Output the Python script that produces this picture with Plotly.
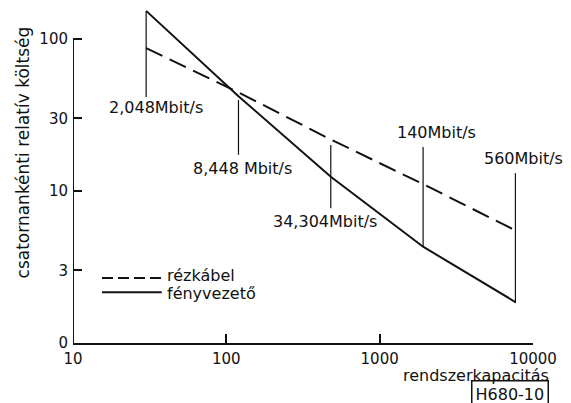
import numpy as np
import plotly.graph_objects as go

# ---- data ----
capacity = [30, 120, 480, 1920, 7680]              # channels (system capacity)
copper_cost = [87, 44.5, 21.8, 11.1, 5.5]          # rézkábel (dashed)
fibre_cost = [153, 42, 12.4, 4.3, 1.86]            # fényvezető (solid)

bitrate_labels = ["2,048Mbit/s", "8,448 Mbit/s", "34,304Mbit/s", "140Mbit/s", "560Mbit/s"]
marker_top = [153, 39.7, 20.1, 19.5, 13.1]
marker_bottom = [41.5, 17.3, 7.7, 4.28, 1.83]

x_tickvals = [10, 100, 1000, 10000]
x_ticktext = ["10", "100", "1000", "10000"]
y_tickvals = [1, 3, 10, 30, 100]
y_ticktext = ["0", "3", "10", "30", "100"]

series_names = ["rézkábel", "fényvezető"]
y_title = "csatornankénti relatív költség"
x_title = "rendszerkapacitás"
figure_code = "H680-10"

FONT = "DejaVu Sans, Liberation Sans, Arial, sans-serif"
BLACK = "#111111"

fig = go.Figure()

# y-axis line drawn only from 1 to 100 (data extends above)
fig.add_trace(go.Scatter(x=[x_tickvals[0], x_tickvals[0]], y=[y_tickvals[0], y_tickvals[-1]],
                         mode="lines", line=dict(color=BLACK, width=2),
                         hoverinfo="skip", showlegend=False))

# curves
fig.add_trace(go.Scatter(x=capacity, y=copper_cost, mode="lines", name=series_names[0],
                         line=dict(color=BLACK, width=2, dash="18px,8px"), showlegend=False))
fig.add_trace(go.Scatter(x=capacity, y=fibre_cost, mode="lines", name=series_names[1],
                         line=dict(color=BLACK, width=2), showlegend=False))

# vertical marker lines for bit rates
for c, t, b in zip(capacity, marker_top, marker_bottom):
    fig.add_trace(go.Scatter(x=[c, c], y=[t, b], mode="lines",
                             line=dict(color=BLACK, width=1.2),
                             hoverinfo="skip", showlegend=False))

# bit-rate labels (x in log units for annotations on log axes)
label_ylog = [1.546, 1.151, 0.796, 1.382, 1.211]
label_xshift = [10, 4, -6, 13, 8]
for lab, c, ylog, xs in zip(bitrate_labels, capacity, label_ylog, label_xshift):
    fig.add_annotation(x=np.log10(c), y=ylog, xref="x", yref="y", text=lab,
                       showarrow=False, xanchor="center", yanchor="middle", xshift=xs,
                       font=dict(family=FONT, size=16, color=BLACK))

# manual legend
leg_x0, leg_x1 = 0.063, 0.193
leg_y = [0.192, 0.150]
leg_dash = ["11px,5px", "solid"]
leg_text_y = [0.198, 0.145]
for name, yy, dsh, ty in zip(series_names, leg_y, leg_dash, leg_text_y):
    fig.add_shape(type="line", xref="paper", yref="paper", x0=leg_x0, x1=leg_x1, y0=yy, y1=yy,
                  line=dict(color=BLACK, width=2, dash=dsh))
    fig.add_annotation(x=0.2, y=ty, xref="paper", yref="paper", text=name, showarrow=False,
                       xanchor="left", yanchor="middle",
                       font=dict(family=FONT, size=16, color=BLACK))

# axis titles and figure code
fig.add_annotation(x=-0.108, y=0.563, xref="paper", yref="paper", text=y_title, textangle=-90,
                   showarrow=False, xanchor="center", yanchor="middle",
                   font=dict(family=FONT, size=17, color=BLACK))
fig.add_annotation(x=1.039, y=-0.097, xref="paper", yref="paper", text=x_title,
                   showarrow=False, xanchor="right", yanchor="middle",
                   font=dict(family=FONT, size=16, color=BLACK))
fig.add_annotation(x=0.949, y=-0.150, xref="paper", yref="paper", text=figure_code,
                   showarrow=False, xanchor="center", yanchor="middle",
                   bordercolor=BLACK, borderwidth=1.5, borderpad=3,
                   font=dict(family=FONT, size=16, color=BLACK))

fig.update_layout(
    width=571, height=403,
    margin=dict(l=73, r=38, t=4, b=60),
    paper_bgcolor="white", plot_bgcolor="white",
    showlegend=False,
    font=dict(family=FONT, size=16, color=BLACK),
    xaxis=dict(type="log", range=[1, 4], tickvals=x_tickvals, ticktext=x_ticktext,
               showgrid=False, zeroline=False, showline=True, linecolor=BLACK, linewidth=2,
               ticks="inside", ticklen=9, tickwidth=1.5, tickcolor=BLACK,
               ticklabelstandoff=1,
               tickfont=dict(family=FONT, size=15, color=BLACK)),
    yaxis=dict(type="log", range=[0, 2.23], tickvals=y_tickvals, ticktext=y_ticktext,
               showgrid=False, zeroline=False, showline=False,
               ticks="inside", ticklen=9, tickwidth=1.5, tickcolor=BLACK,
               ticklabelstandoff=4,
               tickfont=dict(family=FONT, size=15, color=BLACK)),
)

fig.write_html("out.html", config={"displayModeBar": False},
               post_script="document.body.style.margin='0';")
